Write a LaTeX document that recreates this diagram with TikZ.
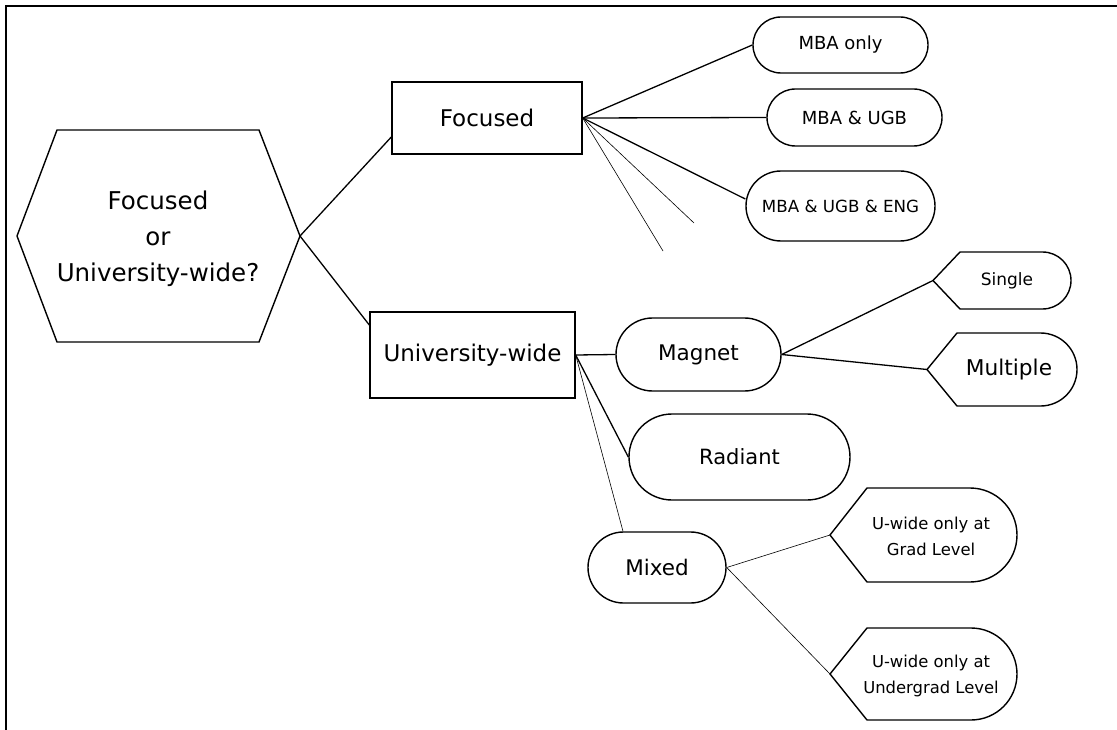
\documentclass[tikz,border=0pt]{standalone}
\usepackage{fontspec}
\setmainfont{DejaVu Sans}
\usetikzlibrary{shapes.misc}
\tikzset{
  shp/.style={draw=black, line width=1.4pt},
  con/.style={draw=black, line width=1.3pt},
  thinline/.style={draw=black, line width=0.6pt},
  boxnode/.style={shp, rectangle, inner sep=0pt},
  pill/.style={shp, rounded rectangle, inner sep=0pt},
  lbl/.style={inner sep=0pt, align=center},
}
\newcommand\fs[2]{\fontsize{#1}{#2}\selectfont}
\newcommand\dispshape[6]{%
  \draw[shp] (#2,{(#4+#5)/2}) -- (#3,#4) -- ({#6-(#5-#4)/2},#4)
    arc[start angle=-90,end angle=90,radius={(#5-#4)/2}] -- (#3,#5) -- cycle;
  \coordinate (#1) at (#2,{(#4+#5)/2});
}
\begin{document}
\begin{tikzpicture}[x=1pt,y=-1pt]
\useasboundingbox (0,0) rectangle (1117,730);
\draw[line width=2pt] (1117,6) -- (6,6) -- (6,730);

% hexagon
\draw[shp] (17,236) -- (57,130) -- (259,130) -- (300,236) -- (259,342) -- (57,342) -- cycle;
\coordinate (hexE) at (300,236);
\node[lbl, font=\fs{24.5}{36}] (hex) at (158,239) {Focused\\or\\University-wide?};

% boxes
\node[boxnode, minimum width=190pt, minimum height=72pt, font=\fs{23}{28}] (foc) at (487,118) {Focused};
\node[boxnode, minimum width=205pt, minimum height=86pt, font=\fs{23}{28}] (uw) at (472.5,355) {University-wide};

% pills
\node[pill, minimum width=175pt, minimum height=56pt, font=\fs{18}{22}] (mba1) at (840.5,45) {MBA only};
\node[pill, minimum width=175pt, minimum height=57pt, font=\fs{18}{22}] (mba2) at (854.5,117.5) {MBA \& UGB};
\node[pill, minimum width=189pt, minimum height=70pt, font=\fs{16.7}{20}] (mba3) at (840.5,206) {MBA \& UGB \& ENG};
\node[pill, minimum width=165pt, minimum height=73pt, font=\fs{21.5}{26}] (mag) at (698.5,354.5) {Magnet};
\node[pill, minimum width=221pt, minimum height=86pt, font=\fs{21}{26}] (rad) at (739.5,457) {Radiant};
\node[pill, minimum width=138pt, minimum height=71pt, font=\fs{21.5}{26}] (mix) at (657,567.5) {Mixed};

% display shapes
\dispshape{sglT}{933}{960}{252}{309}{1071}
\node[lbl, font=\fs{17}{20}] (sgl) at (1007,281) {Single};
\dispshape{mulT}{927}{957}{333}{406}{1077}
\node[lbl, font=\fs{21.7}{26}] (mul) at (1009,370) {Multiple};
\dispshape{gradT}{830}{867}{488}{582}{1017}
\node[lbl, font=\fs{16.4}{26}] (grad) at (931,536) {U-wide only at\\Grad Level};
\dispshape{ugT}{830}{867}{628}{720}{1017}
\node[lbl, font=\fs{16.4}{26}] (ug) at (931,676) {U-wide only at\\Undergrad Level};

% connectors
\draw[con] (hexE) -- ([yshift=-19pt]foc.west);
\draw[con] (hexE) -- ([yshift=30pt]uw.west);
\draw[con] (foc.east) -- (mba1.west);
\draw[con] (foc.east) -- (mba2.west);
\draw[con] (foc.east) -- ([yshift=7pt]mba3.west);
\coordinate (f1) at (694,223);
\coordinate (f2) at (663,251);
\draw[thinline] (foc.east) -- (f1);
\draw[thinline] (foc.east) -- (f2);
\draw[con] (uw.east) -- (mag.west);
\draw[con] (uw.east) -- (rad.west);
\draw[thinline] (uw.east) -- ([xshift=-34pt]mix.north);
\draw[con] (mag.east) -- (sglT);
\draw[con] (mag.east) -- (mulT);
\draw[thinline] (mix.east) -- (gradT);
\draw[thinline] (mix.east) -- (ugT);
\end{tikzpicture}
\end{document}
